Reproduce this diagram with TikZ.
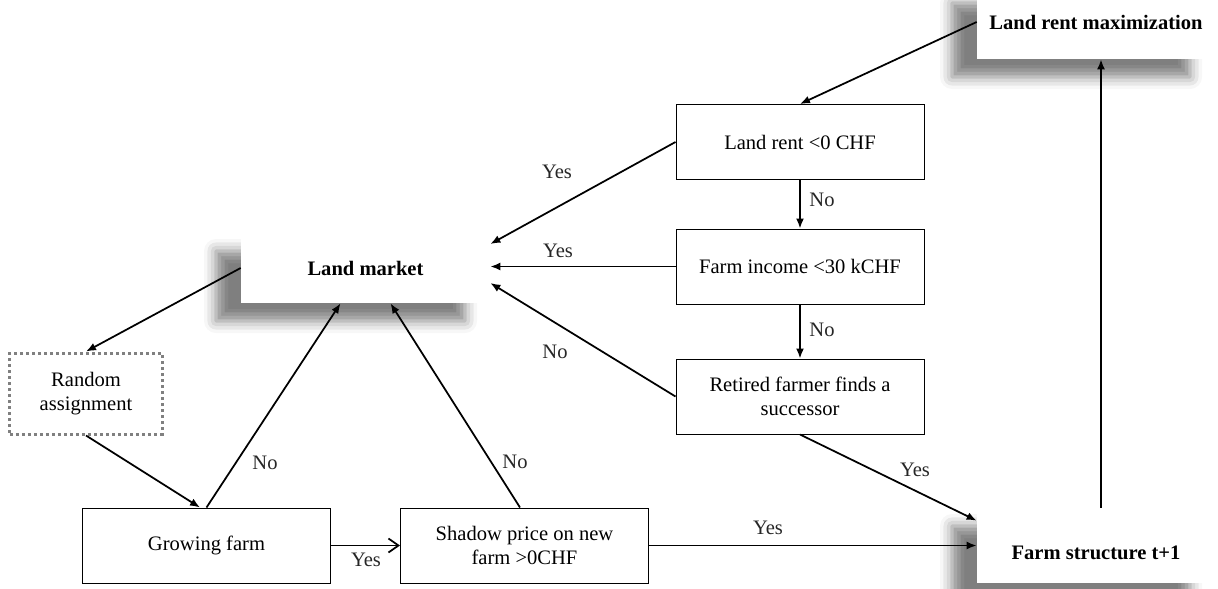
\documentclass[tikz,border=0pt]{standalone}
\usepackage{fontspec}
\setmainfont{Liberation Serif}
\usetikzlibrary{arrows.meta,shadows.blur}

\begin{document}
\begin{tikzpicture}[x=0.2mm, y=-0.2mm,
	every node/.style={font=\fontsize{11.7}{14}\selectfont},
	decision/.style={draw, line width=0.2mm, fill=white, minimum width=49.6mm, minimum height=15mm, align=center, inner sep=0pt},
	stage/.style={fill=white, font=\fontsize{11.7}{14}\selectfont\bfseries, blur shadow={shadow xshift=-5mm, shadow yshift=-3.6mm, shadow blur radius=2.4mm, shadow opacity=50}},
	flow/.style={line width=0.35mm, -{Latex[length=2mm, width=1.6mm]}},
	answer/.style={text=black!85}]
	\useasboundingbox (0,0) rectangle (1218,588);
	\node[stage, minimum width=47.6mm, minimum height=14.8mm] (rentmax) at (1096,22) {Land rent maximization};
	\node[stage, minimum width=49.8mm, minimum height=14mm] (market) at (365.5,268) {Land market};
	\node[stage, minimum width=47.6mm, minimum height=15mm, text height=6mm, text depth=0.6mm] (structure) at (1096,545.5) {Farm structure t+1};
	\node[decision] (rentneg) at (800,142) {Land rent <0 CHF};
	\node[decision] (income) at (800,266.5) {Farm income <30 kCHF};
	\node[decision] (retired) at (800,396.5) {Retired farmer finds a\\successor};
	\node[decision] (growing) at (206.5,545.5) {Growing farm};
	\node[decision] (shadow) at (524.5,545.5) {Shadow price on new\\farm >0CHF};
	\node[decision, draw=gray, line width=0.6mm, dash pattern=on 0.6mm off 0.6mm, minimum width=30.4mm, minimum height=16.2mm] (random) at (86,393.5) {Random\\assignment};
	\draw[flow] (rentmax.west) -- (rentneg.north);
	\draw[flow] (rentneg.west) -- ([yshift=4.8mm]market.east);
	\draw[flow] (rentneg) -- (income);
	\draw[flow] (income.west) -- (market.east |- income.west);
	\draw[flow] (income) -- (retired);
	\draw[flow] (retired.west) -- ([yshift=-3mm]market.east);
	\draw[flow] (retired.south) -- ([yshift=-2.6mm]structure.north west);
	\draw[flow] (shadow.east) -- (structure.west |- shadow.east);
	\draw[flow] ([xshift=1mm]structure.north) -- ([xshift=1mm]rentmax.south);
	\draw[flow] (market.west) -- (random.north);
	\draw[flow] (random.south) -- ([xshift=-1.3mm]growing.north);
	\draw[flow] (growing.north) -- ([xshift=-5mm]market.south);
	\draw[flow] ([xshift=-0.9mm]shadow.north) -- ([xshift=5mm]market.south);
	\draw[line width=0.35mm, -{Straight Barb[length=2mm, width=2.8mm]}] (growing.east) -- (shadow.west);
	\node[answer] (yesrent) at (557,172) {Yes};
	\node[answer] (norent) at (822,200) {No};
	\node[answer] (yesincome) at (558,251) {Yes};
	\node[answer] (noincome) at (822,330) {No};
	\node[answer] (noretired) at (555,352) {No};
	\node[answer] (yesretired) at (915,470) {Yes};
	\node[answer] (yesshadow) at (768,528) {Yes};
	\node[answer] (nogrowing) at (265,463) {No};
	\node[answer] (noshadow) at (515,462) {No};
	\node[answer] (yesgrowing) at (366,560) {Yes};
\end{tikzpicture}
\end{document}
